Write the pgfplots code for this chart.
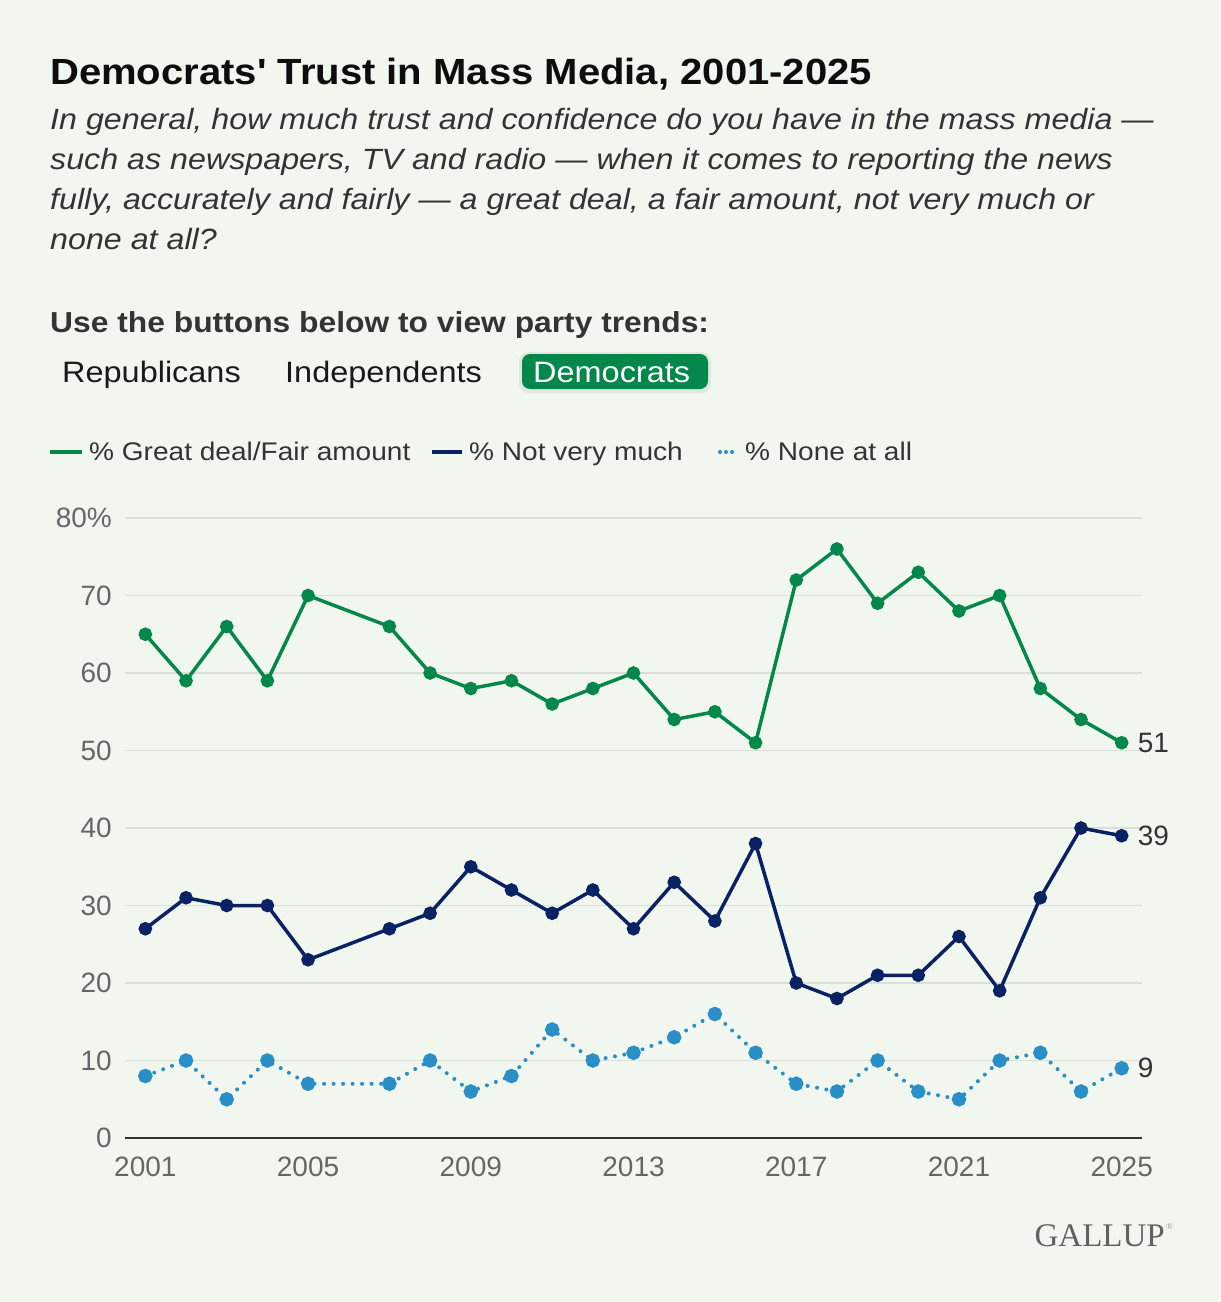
\documentclass[border=0pt]{standalone}
\usepackage{pgfplots}
\pgfplotsset{compat=1.18}
\usepackage{pgfplotstable}
\usepackage{fontspec}
\setmainfont{Liberation Sans}
\newfontfamily\serifgal{Liberation Serif}
\definecolor{bgcol}{HTML}{F1F7EF}
\definecolor{gridcol}{HTML}{DADFD8}
\definecolor{gcol}{HTML}{03874A}
\definecolor{ncol}{HTML}{0A2264}
\definecolor{bcol}{HTML}{2A8FC7}
\definecolor{txt}{HTML}{333333}
\definecolor{tick}{HTML}{666666}
\newcommand{\fs}[1]{\fontsize{#1bp}{#1bp}\selectfont}
\newcommand{\sx}[1]{\scalebox{1.1}[1]{#1}}
\pgfplotstableread{
year great notvery none
2001 65 27 8
2002 59 31 10
2003 66 30 5
2004 59 30 10
2005 70 23 7
2007 66 27 7
2008 60 29 10
2009 58 35 6
2010 59 32 8
2011 56 29 14
2012 58 32 10
2013 60 27 11
2014 54 33 13
2015 55 28 16
2016 51 38 11
2017 72 20 7
2018 76 18 6
2019 69 21 10
2020 73 21 6
2021 68 26 5
2022 70 19 10
2023 58 31 11
2024 54 40 6
2025 51 39 9
}\datatab
\begin{document}
\begin{tikzpicture}[x=1bp,y=1bp]
\fill[bgcol] (0,0) rectangle (1220,-1302);
% title block
\node[anchor=base west,inner sep=0pt] at (50,-85) {\sx{\fs{36.4}\bfseries\color{black!95}Democrats\textquotesingle{} Trust in Mass Media, 2001-2025}};
\foreach \t [count=\i] in {{In general, how much trust and confidence do you have in the mass media ---},{such as newspapers, TV and radio --- when it comes to reporting the news},{fully, accurately and fairly --- a great deal, a fair amount, not very much or},{none at all?}}{
  \node[anchor=base west,inner sep=0pt] at (50,-130-40*\i+40) {\sx{\fs{29.3}\itshape\color{txt}\t}};
}
\node[anchor=base west,inner sep=0pt] at (50,-332) {\sx{\fs{28.9}\bfseries\color{txt}Use the buttons below to view party trends:}};
% buttons
\fill[black,opacity=0.06,rounded corners=9bp] (519,-352) rectangle (711,-393);
\fill[gcol,rounded corners=8bp] (522,-354) rectangle (708,-389);
\node[anchor=base west,inner sep=0pt] at (62,-382) {\sx{\fs{29.5}\color{black!90}Republicans}};
\node[anchor=base west,inner sep=0pt] at (285,-382) {\sx{\fs{29.5}\color{black!90}Independents}};
\node[anchor=base west,inner sep=0pt] at (533,-382) {\sx{\fs{29.5}\color{white}Democrats}};
% legend
\draw[gcol,line width=4bp] (50,-452) -- (82,-452);
\node[anchor=base west,inner sep=0pt] at (89,-460) {\sx{\fs{25.5}\color{txt}\% Great deal/Fair amount}};
\draw[ncol,line width=4bp] (432,-452) -- (462,-452);
\node[anchor=base west,inner sep=0pt] at (469,-460) {\sx{\fs{25.5}\color{txt}\% Not very much}};
\draw[bcol,line width=4bp,line cap=round,dash pattern=on 0.01bp off 6bp] (720,-452) -- (738,-452);
\node[anchor=base west,inner sep=0pt] at (745,-460) {\sx{\fs{25.5}\color{txt}\% None at all}};
% logo
\node[anchor=base east,inner sep=0pt] at (1165,-1246) {\fs{33}\serifgal\color{black!62}GALLUP};
\node[anchor=base west,inner sep=0pt] at (1166,-1229) {\fs{9}\serifgal\color{black!40}\textregistered};
\begin{axis}[
  at={(125bp,-1138bp)}, anchor=south west,
  scale only axis, width=1017bp, height=620bp,
  xmin=2000.5, xmax=2025.5, ymin=0, ymax=80,
  axis line style={draw=none},
  tick style={draw=none},
  ymajorgrids, grid style={gridcol,line width=1.6bp},
  ytick={0,10,20,30,40,50,60,70,80},
  yticklabels={0,10,20,30,40,50,60,70,80\%},
  xtick={2001,2005,2009,2013,2017,2021,2025},
  xticklabels={2001,2005,2009,2013,2017,2021,2025},
  /pgf/number format/assume math mode=true,
  ticklabel style={font=\fs{28}, text=tick, inner sep=0pt},
  xticklabel style={anchor=north, yshift=-19bp},
  yticklabel style={anchor=east, xshift=-13bp},
  clip=false,
]
\addplot[gcol, line width=3.5bp, mark=*, mark size=5bp, mark options={fill=gcol,draw=gcol}] table[x=year,y=great] {\datatab};
\addplot[ncol, line width=3.5bp, mark=*, mark size=5bp, mark options={fill=ncol,draw=ncol}] table[x=year,y=notvery] {\datatab};
\addplot[bcol, line width=4bp, line cap=round, dash pattern=on 0.01bp off 9.5bp, mark=*, mark size=5.2bp, mark options={solid,fill=bcol,draw=bcol}] table[x=year,y=none] {\datatab};
\draw[txt, line width=2.5bp] (rel axis cs:0,0) -- (rel axis cs:1,0);
\node[anchor=west, inner sep=0pt, xshift=16bp, font=\fs{28}, text=txt] at (axis cs:2025,51) {51};
\node[anchor=west, inner sep=0pt, xshift=16bp, font=\fs{28}, text=txt] at (axis cs:2025,39) {39};
\node[anchor=west, inner sep=0pt, xshift=16bp, font=\fs{28}, text=txt] at (axis cs:2025,9) {9};
\end{axis}
\end{tikzpicture}
\end{document}
